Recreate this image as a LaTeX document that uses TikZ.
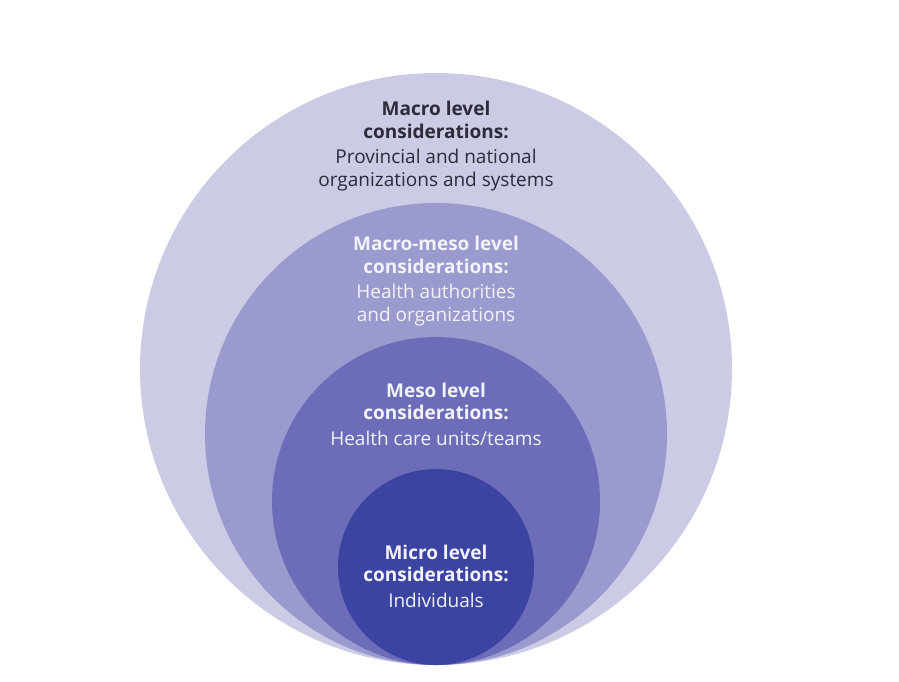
\documentclass[tikz,border=0pt]{standalone}
\usepackage{fontspec}
\setmainfont{Open Sans}
\definecolor{cA}{HTML}{CBCBE6}
\definecolor{cB}{HTML}{9A9ACF}
\definecolor{cC}{HTML}{6C6CB9}
\definecolor{cD}{HTML}{3B44A0}
\definecolor{tdark}{HTML}{2B2B3A}
\definecolor{tlight}{HTML}{F2F2FA}
\begin{document}
\begin{tikzpicture}[x=1pt,y=-1pt,
  lbl/.style={align=center,font=\fontsize{19}{22.5}\selectfont,inner sep=0pt},
  ring/.style={circle,inner sep=0pt}]
\useasboundingbox (0,0) rectangle (899,681);
\fill[white] (0,0) rectangle (899,681);
\node[ring,fill=cA,minimum size=592pt] (macro) at (436,369) {};
\node[ring,fill=cB,minimum size=462pt] (macromeso) at (436,434) {};
\node[ring,fill=cC,minimum size=328pt] (meso) at (436,501) {};
\node[ring,fill=cD,minimum size=196pt] (micro) at (436,567) {};
\node[lbl,text=tdark] (t1) at (436,146) {\textbf{Macro level}\\\textbf{considerations:}\\[3pt]Provincial and national\\organizations and systems};
\node[lbl,text=tlight] (t2) at (436,281) {\textbf{Macro-meso level}\\\textbf{considerations:}\\[3pt]Health authorities\\and organizations};
\node[lbl,text=tlight] (t3) at (436,414) {\textbf{Meso level}\\\textbf{considerations:}\\[3pt]Health care units/teams};
\node[lbl,text=tlight] (t4) at (436,576) {\textbf{Micro level}\\\textbf{considerations:}\\[3pt]Individuals};
\end{tikzpicture}
\end{document}
